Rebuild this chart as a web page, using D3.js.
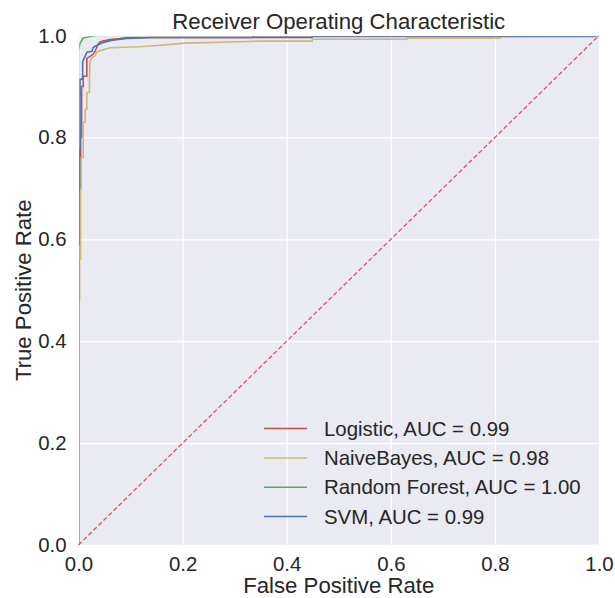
<!DOCTYPE html>
<html><head><meta charset="utf-8">
<script src="https://cdn.jsdelivr.net/npm/d3@7"></script>
<style>body{margin:0;background:#fff}svg{display:block}text{font-family:"Liberation Sans",Arial,sans-serif;fill:#262626}</style>
</head><body>
<script>
const title = "Receiver Operating Characteristic";
const xLabel = "False Positive Rate";
const yLabel = "True Positive Rate";
const ticks = [0, 0.2, 0.4, 0.6, 0.8, 1.0];

const modelNames = ["Logistic", "NaiveBayes", "Random Forest", "SVM"];
const modelAUC = ["0.99", "0.98", "1.00", "0.99"];
const modelColors = ["#C44E52", "#CCB974", "#55A868", "#4C72B0"];

const logisticFPR = [0, 0, 0.002, 0.002, 0.004, 0.004, 0.006, 0.006, 0.009, 0.009, 0.016, 0.016, 0.022, 0.028, 0.032, 0.037, 0.041, 0.047, 0.061, 0.080, 0.093, 0.112, 0.335, 0.335, 1];
const logisticTPR = [0, 0.59, 0.59, 0.70, 0.70, 0.80, 0.80, 0.90, 0.90, 0.92, 0.92, 0.955, 0.959, 0.963, 0.969, 0.982, 0.987, 0.989, 0.992, 0.994, 0.996, 0.996, 0.996, 0.999, 1];

const bayesFPR = [0, 0, 0.002, 0.002, 0.004, 0.004, 0.009, 0.009, 0.013, 0.013, 0.016, 0.016, 0.021, 0.021, 0.022, 0.025, 0.032, 0.035, 0.041, 0.054, 0.061, 0.118, 0.157, 0.205, 0.247, 0.349, 0.449, 0.449, 0.631, 0.631, 0.81, 0.81, 1];
const bayesTPR = [0, 0.48, 0.48, 0.56, 0.56, 0.76, 0.76, 0.83, 0.83, 0.855, 0.855, 0.888, 0.888, 0.914, 0.947, 0.957, 0.960, 0.967, 0.970, 0.974, 0.976, 0.978, 0.981, 0.985, 0.986, 0.989, 0.989, 0.9925, 0.9925, 0.9945, 0.9945, 0.998, 1];

const forestFPR = [0, 0, 0.003, 0.009, 0.022, 0.035, 1];
const forestTPR = [0, 0.972, 0.985, 0.995, 0.998, 1, 1];

const svmFPR = [0, 0, 0.002, 0.002, 0.003, 0.003, 0.008, 0.008, 0.016, 0.026, 0.028, 0.032, 0.047, 0.066, 0.093, 0.143, 0.449, 0.449, 0.99, 1];
const svmTPR = [0, 0.70, 0.70, 0.776, 0.776, 0.914, 0.914, 0.949, 0.967, 0.969, 0.976, 0.979, 0.986, 0.991, 0.994, 0.996, 0.996, 0.998, 0.998, 1];

const diagX = [0, 1];
const diagY = [0, 1];

const W = 615, H = 598;
const L = 78.5, R = 599, T = 35.5, B = 545;

const svg = d3.select("body").append("svg").attr("width", W).attr("height", H);
const x = d3.scaleLinear().domain([0, 1]).range([L, R]);
const y = d3.scaleLinear().domain([0, 1]).range([B, T]);

svg.append("rect").attr("x", L).attr("y", T).attr("width", R - L).attr("height", B - T).attr("fill", "#EAEAF2");

const gx = svg.append("g").attr("transform", `translate(0,${B})`)
  .call(d3.axisBottom(x).tickValues(ticks).tickFormat(d3.format(".1f")).tickSize(-(B - T)).tickPadding(12));
const gy = svg.append("g").attr("transform", `translate(${L},0)`)
  .call(d3.axisLeft(y).tickValues(ticks).tickFormat(d3.format(".1f")).tickSize(-(R - L)).tickPadding(12));
[gx, gy].forEach(g => {
  g.select(".domain").remove();
  g.selectAll(".tick line").attr("stroke", "#fff").attr("stroke-width", 1.3);
  g.selectAll(".tick text").style("font-size", "20.4px").attr("fill", "#262626");
});

const defs = svg.append("defs");
defs.append("clipPath").attr("id", "clip").append("rect")
  .attr("x", L + 0.7).attr("y", T + 0.7).attr("width", R - L - 0.7).attr("height", B - T - 0.7);

const plot = svg.append("g").attr("clip-path", "url(#clip)");
const line = d3.line().x(d => x(d[0])).y(d => y(d[1]));
const series = [
  [logisticFPR, logisticTPR], [bayesFPR, bayesTPR], [forestFPR, forestTPR], [svmFPR, svmTPR]
];
series.forEach((s, i) => {
  const pts = s[0].map((v, k) => [v, s[1][k]]);
  plot.append("path").datum(pts).attr("d", line).attr("fill", "none")
    .attr("stroke", modelColors[i]).attr("stroke-width", 1.6).attr("stroke-linejoin", "round");
});
svg.append("path").datum(diagX.map((v, k) => [v, diagY[k]])).attr("d", line)
  .attr("fill", "none").attr("stroke", "#D9545C").attr("stroke-width", 1.3).attr("stroke-dasharray", "4.5,2.5");

svg.append("text").attr("x", (L + R) / 2).attr("y", 29).attr("text-anchor", "middle")
  .style("font-size", "22.2px").text(title);
svg.append("text").attr("x", (L + R) / 2).attr("y", 593).attr("text-anchor", "middle")
  .style("font-size", "22.2px").text(xLabel);
svg.append("text").attr("transform", `translate(31,${(T + B) / 2}) rotate(-90)`).attr("text-anchor", "middle")
  .style("font-size", "22.2px").text(yLabel);

const leg = svg.append("g");
modelNames.forEach((n, i) => {
  const yy = 428.6 + i * 29.3;
  leg.append("line").attr("x1", 264).attr("x2", 307).attr("y1", yy).attr("y2", yy)
    .attr("stroke", modelColors[i]).attr("stroke-width", 1.5);
  leg.append("text").attr("x", 324).attr("y", yy).attr("dy", "0.35em")
    .style("font-size", "20.4px").text(`${n}, AUC = ${modelAUC[i]}`);
});
</script>
</body></html>
